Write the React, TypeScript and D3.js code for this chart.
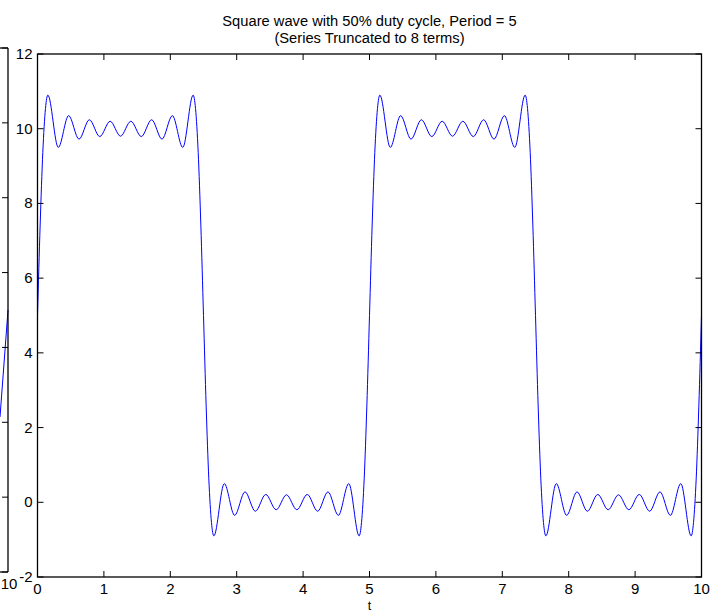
import React from "react";
import * as d3 from "d3";

// Main curve: time points and values (extrema and edge points)
const tValues = [
  0, 0.04, 0.08, 0.12, 0.156, 0.313, 0.469, 0.625, 0.781, 0.938, 1.094, 1.25, 1.406, 1.563, 1.719, 1.875, 2.031, 2.188, 2.344, 2.38, 2.42, 2.46,
  2.5, 2.54, 2.58, 2.62, 2.656, 2.813, 2.969, 3.125, 3.281, 3.438, 3.594, 3.75, 3.906, 4.063, 4.219, 4.375, 4.531, 4.688, 4.844, 4.88, 4.92, 4.96,
  5, 5.04, 5.08, 5.12, 5.156, 5.313, 5.469, 5.625, 5.781, 5.938, 6.094, 6.25, 6.406, 6.563, 6.719, 6.875, 7.031, 7.188, 7.344, 7.38, 7.42, 7.46,
  7.5, 7.54, 7.58, 7.62, 7.656, 7.813, 7.969, 8.125, 8.281, 8.438, 8.594, 8.75, 8.906, 9.063, 9.219, 9.375, 9.531, 9.688, 9.844, 9.88, 9.92, 9.96,
  10,
];
const yValues = [
  5, 7.42, 9.37, 10.54, 10.9, 9.5, 10.35, 9.72, 10.24, 9.79, 10.2, 9.8, 10.2, 9.79, 10.24, 9.72, 10.35, 9.5, 10.9, 10.54, 9.37, 7.42,
  5, 2.58, 0.63, -0.54, -0.9, 0.5, -0.35, 0.28, -0.24, 0.21, -0.2, 0.2, -0.2, 0.21, -0.24, 0.28, -0.35, 0.5, -0.9, -0.54, 0.63, 2.58,
  5, 7.42, 9.37, 10.54, 10.9, 9.5, 10.35, 9.72, 10.24, 9.79, 10.2, 9.8, 10.2, 9.79, 10.24, 9.72, 10.35, 9.5, 10.9, 10.54, 9.37, 7.42,
  5, 2.58, 0.63, -0.54, -0.9, 0.5, -0.35, 0.28, -0.24, 0.21, -0.2, 0.2, -0.2, 0.21, -0.24, 0.28, -0.35, 0.5, -0.9, -0.54, 0.63, 2.58,
  5,
];

// Partially visible left axes (only its right edge shows)
const leftT = [9.953, 10];
const leftY = [2.14, 5];
const leftXTicks = [10];

const xTicks = [0, 1, 2, 3, 4, 5, 6, 7, 8, 9, 10];
const yTicks = [-2, 0, 2, 4, 6, 8, 10, 12];

const titleLines = ["Square wave with 50% duty cycle, Period = 5", "(Series Truncated to 8 terms)"];
const xLabel = "t";

const W = 723;
const H = 611;
const FONT = "'Liberation Sans', Arial, Helvetica, sans-serif";

export default function App() {
  const m = { left: 37.5, right: 701.5, top: 54, bottom: 577 };
  const x = d3.scaleLinear().domain([0, 10]).range([m.left, m.right]);
  const y = d3.scaleLinear().domain([-2, 12]).range([m.bottom, m.top]);

  const pts = tValues.map((t, i) => [t, yValues[i]] as [number, number]);
  const line = d3
    .line<[number, number]>()
    .x((d) => x(d[0]))
    .y((d) => y(d[1]))
    .curve(d3.curveMonotoneX);

  // left axes
  const la = { right: 8, top: 48, bottom: 572 };
  const lx = d3.scaleLinear().domain([9.953, 10]).range([0, la.right]);
  const ly = d3.scaleLinear().domain([-2, 12]).range([la.bottom, la.top]);
  const lpts = leftT.map((t, i) => [t, leftY[i]] as [number, number]);
  const lline = d3
    .line<[number, number]>()
    .x((d) => lx(d[0]))
    .y((d) => ly(d[1]));

  const tickLen = 6;
  const axisColor = "#000";

  return (
    <svg
      width={W}
      height={H}
      style={{ position: "absolute", left: 0, top: 0, background: "#fff" }}
      fontFamily={FONT}
    >
      <rect x={0} y={0} width={W} height={H} fill="#fff" />

      {/* left partial axes */}
      <g>
        <path d={lline(lpts) || ""} fill="none" stroke="#0000ff" strokeWidth={1} />
        {yTicks.map((v) => (
          <line key={"lyt" + v} x1={la.right} x2={la.right - tickLen} y1={ly(v)} y2={ly(v)} stroke={axisColor} strokeWidth={1} />
        ))}
        <line x1={-10} x2={la.right} y1={la.top} y2={la.top} stroke={axisColor} strokeWidth={1.3} />
        <line x1={-10} x2={la.right} y1={la.bottom} y2={la.bottom} stroke={axisColor} strokeWidth={1.3} />
        <line x1={la.right} x2={la.right} y1={la.top} y2={la.bottom} stroke={axisColor} strokeWidth={1.3} />
        {leftXTicks.map((v) => (
          <text key={"lxt" + v} x={lx(v) + 1} y={la.bottom + 17} fontSize={15} textAnchor="middle" fill="#000">
            {v}
          </text>
        ))}
      </g>

      {/* main curve */}
      <path d={line(pts) || ""} fill="none" stroke="#0000ff" strokeWidth={1} />

      {/* ticks */}
      {xTicks.map((v) => (
        <g key={"xt" + v}>
          <line x1={x(v)} x2={x(v)} y1={m.bottom} y2={m.bottom - tickLen} stroke={axisColor} strokeWidth={1} />
          <line x1={x(v)} x2={x(v)} y1={m.top} y2={m.top + tickLen} stroke={axisColor} strokeWidth={1} />
          <text x={x(v)} y={m.bottom + 16.5} fontSize={15} textAnchor="middle" fill="#000">
            {v}
          </text>
        </g>
      ))}
      {yTicks.map((v) => (
        <g key={"yt" + v}>
          <line x1={m.left} x2={m.left + tickLen} y1={y(v)} y2={y(v)} stroke={axisColor} strokeWidth={1} />
          <line x1={m.right} x2={m.right - tickLen} y1={y(v)} y2={y(v)} stroke={axisColor} strokeWidth={1} />
          <text x={m.left - 5} y={y(v) + 5} fontSize={15} textAnchor="end" fill="#000">
            {v}
          </text>
        </g>
      ))}

      {/* axes box */}
      <rect
        x={m.left}
        y={m.top}
        width={m.right - m.left}
        height={m.bottom - m.top}
        fill="none"
        stroke={axisColor}
        strokeWidth={1.3}
      />

      {/* title */}
      <text x={(m.left + m.right) / 2} y={26} fontSize={14.7} textAnchor="middle" fill="#000">
        {titleLines[0]}
      </text>
      <text x={(m.left + m.right) / 2} y={43} fontSize={14.7} textAnchor="middle" fill="#000">
        {titleLines[1]}
      </text>

      {/* x label */}
      <text x={(m.left + m.right) / 2} y={609.5} fontSize={12.5} textAnchor="middle" fill="#000">
        {xLabel}
      </text>
    </svg>
  );
}
